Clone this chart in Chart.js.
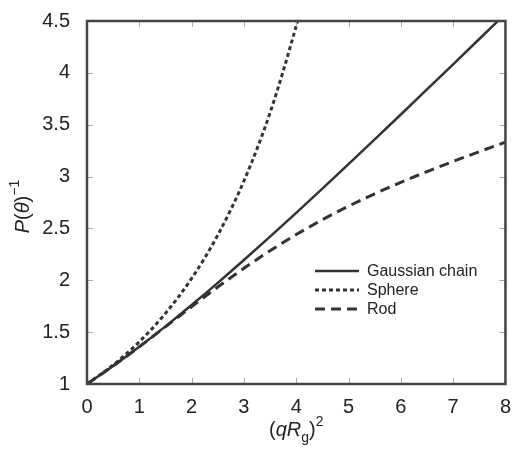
<!DOCTYPE html>
<html>
<head>
<meta charset="utf-8">
<script src="https://cdn.jsdelivr.net/npm/chart.js@4.4.1/dist/chart.umd.min.js"></script>
<style>
  html, body { margin: 0; padding: 0; background: #fff; }
  #wrap { width: 514px; height: 449px; }
</style>
</head>
<body>
<div id="wrap"><canvas id="plot" width="514" height="449"></canvas></div>
<script>
// (qRg)^2 values and inverse form factors
const xGauss = [0, 0.5, 1, 1.5, 2, 2.5, 3, 3.5, 4, 4.5, 5, 5.5, 6, 6.5, 7, 7.5, 8];
const gaussInv = [1, 1.1734, 1.3591, 1.5557, 1.7616, 1.9752, 2.1953, 2.4208, 2.6505, 2.8837, 3.1197, 3.3581, 3.5982, 3.8399, 4.0827, 4.3265, 4.5711];

const xSphere = [0, 0.5, 1, 1.5, 2, 2.5, 3, 3.5, 4, 4.1];
const sphereInv = [1, 1.1837, 1.4073, 1.6809, 2.0177, 2.4355, 2.9576, 3.6157, 4.4531, 4.6471];

const xRod = [0, 0.5, 1, 1.5, 2, 2.5, 3, 3.5, 4, 4.5, 5, 5.5, 6, 6.5, 7, 7.5, 8];
const rodInv = [1, 1.1739, 1.3594, 1.5517, 1.7453, 1.9347, 2.1156, 2.2849, 2.4410, 2.5839, 2.7144, 2.8340, 2.9446, 3.0481, 3.1461, 3.2402, 3.3314];

const seriesNames = ['Gaussian chain', 'Sphere', 'Rod'];
const xTicks = [0, 1, 2, 3, 4, 5, 6, 7, 8];
const yTicks = [1, 1.5, 2, 2.5, 3, 3.5, 4, 4.5];

const lineColor = '#333';
const frameColor = '#444';
const textColor = '#222';
const font = '"Liberation Sans", Arial, Helvetica, sans-serif';

const pts = (xs, ys) => xs.map((x, i) => ({ x: x, y: ys[i] }));

// frame, inward ticks, legend and axis titles
const decor = {
  id: 'decor',
  afterDatasetsDraw(chart) {
    const ctx = chart.ctx;
    const a = chart.chartArea;
    const xs = chart.scales.x;
    const ys = chart.scales.y;
    ctx.save();

    ctx.strokeStyle = '#aaa';
    ctx.lineWidth = 1;
    ctx.beginPath();
    xTicks.forEach((v) => {
      const px = Math.round(xs.getPixelForValue(v)) + 0.5;
      ctx.moveTo(px, a.bottom); ctx.lineTo(px, a.bottom - 6);
      ctx.moveTo(px, a.top); ctx.lineTo(px, a.top + 6);
    });
    yTicks.forEach((v) => {
      const py = Math.round(ys.getPixelForValue(v)) + 0.5;
      ctx.moveTo(a.left, py); ctx.lineTo(a.left + 6, py);
      ctx.moveTo(a.right, py); ctx.lineTo(a.right - 6, py);
    });
    ctx.stroke();

    ctx.strokeStyle = frameColor;
    ctx.lineWidth = 2.5;
    ctx.strokeRect(a.left, a.top, a.right - a.left, a.bottom - a.top);

    // legend
    ctx.font = '16px ' + font;
    ctx.fillStyle = textColor;
    ctx.textBaseline = 'middle';
    ctx.textAlign = 'left';
    const rows = [271, 290, 309];
    chart.data.datasets.forEach((ds, i) => {
      ctx.strokeStyle = ds.borderColor;
      ctx.lineWidth = ds.borderWidth;
      ctx.setLineDash(ds.borderDash || []);
      ctx.beginPath();
      ctx.moveTo(315, rows[i]);
      ctx.lineTo(359, rows[i]);
      ctx.stroke();
      ctx.setLineDash([]);
      ctx.fillText(ds.label, 367, rows[i] + 1);
    });

    // x title: (qRg)^2
    ctx.textBaseline = 'alphabetic';
    const cx = (a.left + a.right) / 2;
    const base = 436;
    const parts = [
      { t: '(', f: '20px ' + font, dy: 0 },
      { t: 'q', f: 'italic 20px ' + font, dy: 0 },
      { t: 'R', f: 'italic 20px ' + font, dy: 0 },
      { t: 'g', f: '14px ' + font, dy: 6 },
      { t: ')', f: '20px ' + font, dy: 0 },
      { t: '2', f: '14px ' + font, dy: -10 }
    ];
    let w = 0;
    parts.forEach((p) => { ctx.font = p.f; w += ctx.measureText(p.t).width; });
    let x = cx - w / 2;
    parts.forEach((p) => {
      ctx.font = p.f;
      ctx.fillText(p.t, x, base + p.dy);
      x += ctx.measureText(p.t).width;
    });

    // y title: P(θ)^-1, rotated
    ctx.translate(29, (a.top + a.bottom) / 2 + 4);
    ctx.rotate(-Math.PI / 2);
    const yparts = [
      { t: 'P', f: 'italic 20px ' + font, dy: 0 },
      { t: '(', f: '20px ' + font, dy: 0 },
      { t: 'θ', f: 'italic 20px ' + font, dy: 0 },
      { t: ')', f: '20px ' + font, dy: 0 },
      { t: '−1', f: '14px ' + font, dy: -10 }
    ];
    w = 0;
    yparts.forEach((p) => { ctx.font = p.f; w += ctx.measureText(p.t).width; });
    x = -w / 2;
    yparts.forEach((p) => {
      ctx.font = p.f;
      ctx.fillText(p.t, x, p.dy);
      x += ctx.measureText(p.t).width;
    });
    ctx.restore();
  }
};

new Chart(document.getElementById('plot'), {
  type: 'line',
  data: {
    datasets: [
      {
        label: seriesNames[0],
        data: pts(xGauss, gaussInv),
        borderColor: lineColor,
        borderWidth: 2.5,
        pointRadius: 0,
        cubicInterpolationMode: 'monotone',
        clip: 0,
      },
      {
        label: seriesNames[1],
        data: pts(xSphere, sphereInv),
        borderColor: lineColor,
        borderWidth: 3,
        borderDash: [4, 3],
        pointRadius: 0,
        cubicInterpolationMode: 'monotone',
        clip: 0,
      },
      {
        label: seriesNames[2],
        data: pts(xRod, rodInv),
        borderColor: lineColor,
        borderWidth: 3,
        borderDash: [10, 6],
        pointRadius: 0,
        cubicInterpolationMode: 'monotone',
        clip: 0,
      },
    ],
  },
  options: {
    responsive: false,
    animation: false,
    layout: { padding: { left: 0, right: 6, top: 16, bottom: 0 } },
    plugins: { legend: { display: false }, tooltip: { enabled: false } },
    scales: {
      x: {
        type: 'linear',
        min: 0,
        max: 8,
        afterFit: (s) => { s.height = 65; },
        afterBuildTicks: (s) => { s.ticks = xTicks.map((v) => ({ value: v })); },
        grid: { display: false },
        border: { display: false },
        ticks: { color: textColor, font: { size: 20, family: font }, padding: 3, maxRotation: 0, callback: (v) => String(v) },
      },
      y: {
        min: 1,
        max: 4.5,
        afterFit: (s) => { s.width = 87; },
        afterBuildTicks: (s) => { s.ticks = yTicks.map((v) => ({ value: v })); },
        grid: { display: false },
        border: { display: false },
        ticks: { color: textColor, font: { size: 20, family: font }, padding: 9, callback: (v) => String(v) },
      },
    },
  },
  plugins: [decor],
});
</script>
</body>
</html>
